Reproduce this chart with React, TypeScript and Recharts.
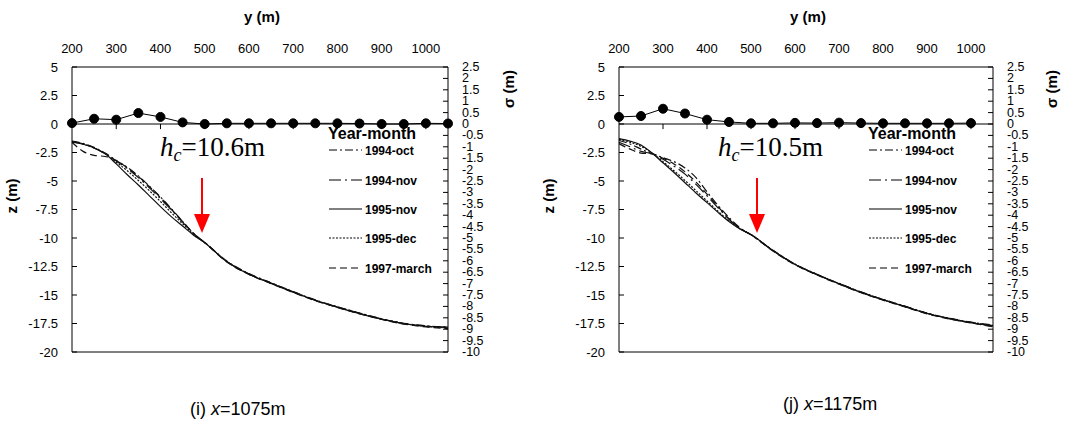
import React from "react";
import { LineChart, Line, XAxis, YAxis, ReferenceLine } from "recharts";

// distance along profile (m)
const DIST = [200, 225, 250, 275, 300, 325, 350, 375, 400, 425, 450, 475, 500, 550, 600, 650, 700, 750, 800, 850, 900, 950, 1000, 1050];

// (i) x=1075m  bed level z (m)
const L_OCT94 = [-1.5, -1.7, -2.05, -2.55, -3.2, -3.8, -4.55, -5.45, -6.4, -7.45, -8.55, -9.6, -10.38, -12.02, -13.12, -13.93, -14.7, -15.43, -16.03, -16.58, -17.08, -17.48, -17.7, -17.8];
const L_NOV94 = [-1.55, -1.75, -2.1, -2.6, -3.25, -3.9, -4.7, -5.6, -6.55, -7.55, -8.6, -9.65, -10.4, -12.05, -13.15, -13.95, -14.72, -15.45, -16.05, -16.6, -17.1, -17.5, -17.72, -17.85];
const L_NOV95 = [-1.58, -1.78, -2.1, -2.62, -3.5, -4.45, -5.35, -6.3, -7.25, -8.15, -8.95, -9.75, -10.42, -12.08, -13.18, -13.98, -14.75, -15.48, -16.08, -16.63, -17.12, -17.52, -17.75, -17.82];
const L_DEC95 = [-1.56, -1.76, -2.1, -2.62, -3.35, -4.1, -4.95, -5.85, -6.8, -7.8, -8.75, -9.7, -10.42, -12.06, -13.16, -13.96, -14.73, -15.46, -16.06, -16.61, -17.11, -17.51, -17.74, -17.9];
const L_MAR97 = [-1.6, -2.4, -2.75, -2.85, -3.2, -3.85, -4.6, -5.5, -6.45, -7.5, -8.55, -9.6, -10.4, -12.1, -13.2, -14.0, -14.78, -15.5, -16.1, -16.65, -17.15, -17.55, -17.8, -17.95];

// (j) x=1175m
const R_OCT94 = [-1.45, -1.75, -2.2, -2.6, -2.95, -3.3, -3.85, -4.7, -5.95, -7.15, -8.2, -9.1, -9.72, -11.08, -12.28, -13.18, -13.98, -14.73, -15.38, -15.98, -16.58, -17.03, -17.38, -17.62];
const R_NOV94 = [-1.6, -2.0, -2.4, -2.62, -3.1, -3.7, -4.4, -5.3, -6.3, -7.35, -8.35, -9.15, -9.72, -11.1, -12.3, -13.2, -14.0, -14.75, -15.4, -16.0, -16.6, -17.05, -17.4, -17.68];
const R_NOV95 = [-1.28, -1.5, -1.85, -2.55, -3.4, -4.25, -5.15, -6.05, -6.9, -7.75, -8.55, -9.2, -9.7, -11.12, -12.32, -13.22, -14.02, -14.77, -15.42, -16.02, -16.62, -17.07, -17.42, -17.7];
const R_DEC95 = [-1.35, -1.6, -1.95, -2.55, -3.3, -4.1, -4.95, -5.85, -6.75, -7.65, -8.5, -9.2, -9.7, -11.1, -12.3, -13.2, -14.0, -14.75, -15.4, -16.0, -16.6, -17.05, -17.42, -17.75];
const R_MAR97 = [-1.72, -2.2, -2.55, -2.62, -3.0, -3.5, -4.2, -5.1, -6.15, -7.25, -8.3, -9.15, -9.72, -11.15, -12.35, -13.25, -14.05, -14.8, -15.45, -16.05, -16.65, -17.1, -17.45, -17.8];

// standard deviation sigma (m)
const L_SIGMA_DIST = [200, 250, 300, 350, 400, 450, 500, 550, 600, 650, 700, 750, 800, 850, 900, 950, 1000, 1050];
const L_SIGMA = [0.04, 0.23, 0.19, 0.48, 0.31, 0.07, 0.0, 0.03, 0.03, 0.03, 0.03, 0.03, 0.03, 0.02, 0.0, 0.0, 0.03, 0.02];
const R_SIGMA_DIST = [200, 250, 300, 350, 400, 450, 500, 550, 600, 650, 700, 750, 800, 850, 900, 950, 1000];
const R_SIGMA = [0.31, 0.35, 0.67, 0.46, 0.19, 0.09, 0.03, 0.03, 0.05, 0.04, 0.06, 0.04, 0.03, 0.03, 0.03, 0.03, 0.04];

const Y_TICKS = [200, 300, 400, 500, 600, 700, 800, 900, 1000];
const Z_TICKS = [5, 2.5, 0, -2.5, -5, -7.5, -10, -12.5, -15, -17.5, -20];
const S_TICKS = [2.5, 2, 1.5, 1, 0.5, 0, -0.5, -1, -1.5, -2, -2.5, -3, -3.5, -4, -4.5, -5, -5.5, -6, -6.5, -7, -7.5, -8, -8.5, -9, -9.5, -10];

const SERIES = [
  { key: "oct94", name: "1994-oct", dash: "8 3 2 3" },
  { key: "nov94", name: "1994-nov", dash: "12 4 2 4" },
  { key: "nov95", name: "1995-nov", dash: undefined },
  { key: "dec95", name: "1995-dec", dash: "2 1.5" },
  { key: "mar97", name: "1997-march", dash: "7 4" },
];

const buildRows = (cols: number[][]) =>
  DIST.map((y, i) => {
    const row: any = { y };
    SERIES.forEach((s, j) => (row[s.key] = cols[j][i]));
    return row;
  });

const leftRows = buildRows([L_OCT94, L_NOV94, L_NOV95, L_DEC95, L_MAR97]);
const rightRows = buildRows([R_OCT94, R_NOV94, R_NOV95, R_DEC95, R_MAR97]);
const leftSigma = L_SIGMA_DIST.map((y, i) => ({ y, s: L_SIGMA[i] }));
const rightSigma = R_SIGMA_DIST.map((y, i) => ({ y, s: R_SIGMA[i] }));

const ZTick = (p: any) => (
  <g>
    <text x={p.x} y={p.y} textAnchor="end" dominantBaseline="central" fontSize={13} fill="#000">
      {p.payload.value}
    </text>
    <line x1={p.x + 14} x2={p.x + 19} y1={p.y} y2={p.y} stroke="#000" />
  </g>
);

// sigma labels are packed tight, as in the source figure
const STick = (p: any) => (
  <g>
    <text x={p.x} y={p.y} textAnchor="start" dominantBaseline="central" fontSize={12.5} fill="#000">
      {p.payload.value}
    </text>
    <line x1={p.x - 14} x2={p.x - 19} y1={p.y} y2={p.y} stroke="#000" />
  </g>
);

function Panel({ left, width, plotWidth, rows, sigma }: any) {
  return (
    <div style={{ position: "absolute", left, top: 0 }}>
      <LineChart width={width} height={380} data={rows} margin={{ top: 37, right: width - 72 - plotWidth - 60, bottom: 27, left: 30 }}>
        <XAxis xAxisId="t" orientation="top" type="number" dataKey="y" domain={[200, 1050]} ticks={Y_TICKS} interval={0}
          tickLine={false} tickMargin={8} axisLine={{ stroke: "#000" }} tick={{ fontSize: 13, fill: "#000" }} height={30} />
        <XAxis xAxisId="b" orientation="bottom" type="number" dataKey="y" domain={[200, 1050]} tick={false} tickLine={false}
          axisLine={{ stroke: "#000" }} height={1} />
        <YAxis yAxisId="z" orientation="left" type="number" domain={[-20, 5]} ticks={Z_TICKS} interval={0} width={42}
          tickSize={0} tickMargin={14} tickLine={false} axisLine={{ stroke: "#000" }} tick={(p: any) => <ZTick {...p} />} />
        <YAxis yAxisId="s" orientation="right" type="number" domain={[-10, 2.5]} ticks={S_TICKS} interval={0} width={60}
          tickSize={0} tickMargin={14} tickLine={false} axisLine={{ stroke: "#000" }} tick={(p: any) => <STick {...p} />} />
        <ReferenceLine xAxisId="t" yAxisId="z" y={0} stroke="#000" />
        {Y_TICKS.slice(1).map((t) => (
          <ReferenceLine key={t} xAxisId="t" yAxisId="z" segment={[{ x: t, y: 0 }, { x: t, y: -0.45 }]} stroke="#000" />
        ))}
        {SERIES.map((s) => (
          <Line key={s.key} xAxisId="t" yAxisId="z" dataKey={s.key} type="monotone" stroke="#111" strokeWidth={1.2}
            strokeDasharray={s.dash} dot={false} isAnimationActive={false} />
        ))}
        <Line xAxisId="t" yAxisId="s" data={sigma} dataKey="s" type="linear" stroke="#000" strokeWidth={1}
          dot={{ r: 4.5, fill: "#000", stroke: "#000" }} isAnimationActive={false} />
      </LineChart>
    </div>
  );
}

function Legend({ x }: { x: number }) {
  const ys = [150, 180, 209, 238, 268];
  return (
    <g>
      <text x={x} y={139} fontSize={16} fontWeight="bold" fill="#000">Year-month</text>
      {SERIES.map((s, i) => (
        <g key={s.key}>
          <line x1={x + 1} x2={x + 34} y1={ys[i]} y2={ys[i]} stroke="#000" strokeDasharray={s.dash} />
          <text x={x + 37} y={ys[i] + 4.5} fontSize={12} fontWeight="bold" fill="#000">{s.name}</text>
        </g>
      ))}
    </g>
  );
}

function Arrow({ x }: { x: number }) {
  return (
    <g>
      <line x1={x} x2={x} y1={178} y2={215} stroke="#ff0000" strokeWidth={2} />
      <polygon points={`${x - 8},214 ${x + 8},214 ${x},233`} fill="#ff0000" />
    </g>
  );
}

export default function App() {
  return (
    <div style={{ position: "absolute", left: 0, top: 0, width: 1066, height: 421, background: "#fff", fontFamily: "'Liberation Sans', Arial, sans-serif", overflow: "hidden" }}>
      <Panel left={0} width={540} plotWidth={376} rows={leftRows} sigma={leftSigma} />
      <Panel left={547} width={519} plotWidth={374} rows={rightRows} sigma={rightSigma} />
      <svg width={1066} height={421} style={{ position: "absolute", left: 0, top: 0, pointerEvents: "none" }}>
        <text x={262} y={22} textAnchor="middle" fontSize={15} fontWeight="bold">y (m)</text>
        <text x={808} y={22} textAnchor="middle" fontSize={15} fontWeight="bold">y (m)</text>
        <text transform="translate(17,196) rotate(-90)" textAnchor="middle" fontSize={15} fontWeight="bold">z (m)</text>
        <text transform="translate(554,196) rotate(-90)" textAnchor="middle" fontSize={15} fontWeight="bold">z (m)</text>
        <text transform="translate(514,89) rotate(-90)" textAnchor="middle" fontSize={15} fontWeight="bold">σ (m)</text>
        <text transform="translate(1057,89) rotate(-90)" textAnchor="middle" fontSize={15} fontWeight="bold">σ (m)</text>
        <text x={160} y={156} fontFamily="'Liberation Serif', serif" fontSize={27}>
          <tspan fontStyle="italic">h</tspan>
          <tspan fontStyle="italic" fontSize={18} dy={5}>c</tspan>
          <tspan dy={-5}>=10.6m</tspan>
        </text>
        <text x={718} y={156} fontFamily="'Liberation Serif', serif" fontSize={27}>
          <tspan fontStyle="italic">h</tspan>
          <tspan fontStyle="italic" fontSize={18} dy={5}>c</tspan>
          <tspan dy={-5}>=10.5m</tspan>
        </text>
        <Arrow x={202} />
        <Arrow x={757} />
        <Legend x={328} />
        <Legend x={868} />
        <text x={190} y={415} fontSize={18}>
          (i) <tspan fontStyle="italic">x</tspan>=1075m
        </text>
        <text x={783} y={410} fontSize={18}>
          (j) <tspan fontStyle="italic">x</tspan>=1175m
        </text>
      </svg>
    </div>
  );
}
